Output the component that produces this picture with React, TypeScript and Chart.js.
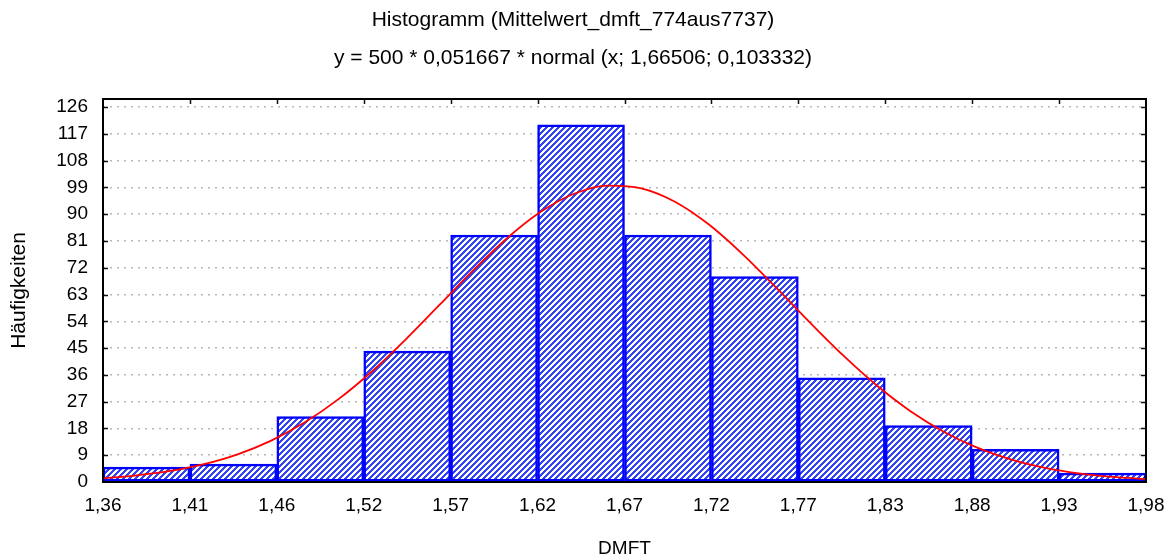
import React, { useEffect, useRef } from "react";
import { Chart, registerables } from "chart.js";

Chart.register(...registerables);

// ---- data ----
const titleLines = [
  "Histogramm (Mittelwert_dmft_774aus7737)",
  "y = 500 * 0,051667 * normal (x; 1,66506; 0,103332)",
];
const xAxisTitle = "DMFT";
const yAxisTitle = "Häufigkeiten";

const binStart = 1.36;
const binWidth = 0.051667;
const xTickLabels = ["1,36", "1,41", "1,46", "1,52", "1,57", "1,62", "1,67", "1,72", "1,77", "1,83", "1,88", "1,93", "1,98"];
const counts = [5, 6, 22, 44, 83, 120, 83, 69, 35, 19, 11, 3];
const yTicks = [0, 9, 18, 27, 36, 45, 54, 63, 72, 81, 90, 99, 108, 117, 126];
const yMax = 128.7;

// fitted normal curve
const curveX = [1.36, 1.38, 1.40, 1.42, 1.44, 1.46, 1.48, 1.50, 1.52, 1.54, 1.56, 1.58, 1.60, 1.62, 1.64, 1.66, 1.68, 1.70, 1.72, 1.74, 1.76, 1.78, 1.80, 1.82, 1.84, 1.86, 1.88, 1.90, 1.92, 1.94, 1.96, 1.98];
const curveY = [1.28, 2.22, 3.71, 5.99, 9.31, 13.92, 20.06, 27.85, 37.23, 47.95, 59.48, 71.08, 81.81, 90.69, 96.85, 99.62, 98.70, 94.20, 86.59, 76.67, 65.40, 53.73, 42.52, 32.41, 23.80, 16.83, 11.46, 7.52, 4.75, 2.89, 1.70, 0.96];

const FONT = "'Liberation Sans', Arial, sans-serif";

function makeHatch(): CanvasPattern | string {
  const size = 6;
  const c = document.createElement("canvas");
  c.width = size;
  c.height = size;
  const g = c.getContext("2d");
  if (!g) return "#4455ff";
  g.fillStyle = "#ffffff";
  g.fillRect(0, 0, size, size);
  g.fillStyle = "#3344f2";
  for (let i = 0; i < size; i++) {
    for (let j = 0; j < size; j++) {
      const k = (i + j) % size;
      if (k === 0 || k === 1 || k === 2) g.fillRect(i, j, 1, 1);
    }
  }
  const p = g.createPattern(c, "repeat");
  return p || "#4455ff";
}

const framePlugin = {
  id: "frameTicks",
  afterDatasetsDraw(chart: any) {
    const { ctx, chartArea } = chart;
    const { left, right, top, bottom } = chartArea;
    const xs = chart.scales.x;
    const ys = chart.scales.y;
    ctx.save();
    ctx.strokeStyle = "#111";
    ctx.lineWidth = 1.5;
    const len = 5;
    ctx.beginPath();
    yTicks.forEach((v) => {
      if (v === 0) return;
      const py = Math.round(ys.getPixelForValue(v)) + 0.5;
      ctx.moveTo(left, py);
      ctx.lineTo(left + len, py);
      ctx.moveTo(right, py);
      ctx.lineTo(right - len, py);
    });
    xTickLabels.forEach((_, i) => {
      if (i === 0 || i === xTickLabels.length - 1) return;
      const px = Math.round(xs.getPixelForValue(binStart + i * binWidth)) + 0.5;
      ctx.moveTo(px, top);
      ctx.lineTo(px, top + len);
    });
    ctx.stroke();
    ctx.lineWidth = 2;
    ctx.strokeStyle = "#000";
    ctx.strokeRect(left, top, right - left, bottom - top);
    ctx.restore();
  },
};

export default function App() {
  const ref = useRef<HTMLCanvasElement | null>(null);

  useEffect(() => {
    if (!ref.current) return;
    const hatch = makeHatch();
    const barData = counts.map((c, i) => ({ x: binStart + (i + 0.5) * binWidth, y: c }));
    const lineData = curveX.map((x, i) => ({ x, y: curveY[i] }));
    const edges = xTickLabels.map((_, i) => binStart + i * binWidth);

    const chart = new Chart(ref.current, {
      type: "bar",
      data: {
        datasets: [
          {
            type: "line",
            data: lineData,
            borderColor: "#ff0000",
            borderWidth: 1.8,
            pointRadius: 0,
            tension: 0.4,
            cubicInterpolationMode: "monotone",
            fill: false,
            order: 0,
          } as any,
          {
            type: "bar",
            data: barData,
            backgroundColor: hatch as any,
            borderColor: "#0000ff",
            borderWidth: 2.5,
            borderSkipped: false,
            barPercentage: 1,
            categoryPercentage: 1,
            order: 1,
          } as any,
        ],
      },
      options: {
        animation: false,
        responsive: true,
        maintainAspectRatio: false,
        layout: { padding: { top: 0, right: 27, bottom: 0, left: 0 } },
        plugins: {
          legend: { display: false },
          tooltip: { enabled: false },
          title: {
            display: true,
            text: titleLines,
            color: "#000",
            font: { family: FONT, size: 21, weight: "normal", lineHeight: 38 / 21 },
            padding: { top: 1, bottom: 22 },
          },
        },
        scales: {
          x: {
            type: "linear",
            min: binStart,
            max: binStart + 12 * binWidth,
            offset: false,
            afterBuildTicks: (scale: any) => {
              scale.ticks = edges.map((v) => ({ value: v }));
            },
            afterFit: (scale: any) => {
              scale.height = 78;
              scale.paddingRight = 20;
              scale.paddingLeft = 20;
            },
            grid: { display: false, offset: false, drawTicks: false },
            border: { display: false },
            ticks: {
              padding: 12,
              color: "#000",
              font: { family: FONT, size: 19 },
              maxRotation: 0,
              autoSkip: false,
              callback: (_v: any, i: number) => xTickLabels[i],
            },
            title: {
              display: true,
              text: xAxisTitle,
              color: "#000",
              font: { family: FONT, size: 19 },
              padding: { top: 0, bottom: 0 },
            },
          },
          y: {
            type: "linear",
            min: 0,
            max: yMax,
            afterBuildTicks: (scale: any) => {
              scale.ticks = yTicks.map((v) => ({ value: v }));
            },
            afterFit: (scale: any) => {
              scale.width = 103;
            },
            grid: {
              drawTicks: false,
              color: (c: any) => (c.tick && c.tick.value === 0 ? "rgba(0,0,0,0)" : "#b8b8b8"),
              lineWidth: 1.5,
            },
            border: { display: false, dash: [2, 5] },
            ticks: {
              padding: 15,
              color: "#000",
              font: { family: FONT, size: 19 },
              autoSkip: false,
              callback: (v: any) => String(v),
            },
            title: {
              display: true,
              text: yAxisTitle,
              color: "#000",
              font: { family: FONT, size: 21 },
              padding: { top: 7, bottom: 0 },
            },
          },
        },
      },
      plugins: [framePlugin],
    });
    return () => chart.destroy();
  }, []);

  return (
    <div style={{ position: "fixed", left: 0, top: 0, width: 1173, height: 560, background: "#fff" }}>
      <canvas ref={ref} />
    </div>
  );
}
